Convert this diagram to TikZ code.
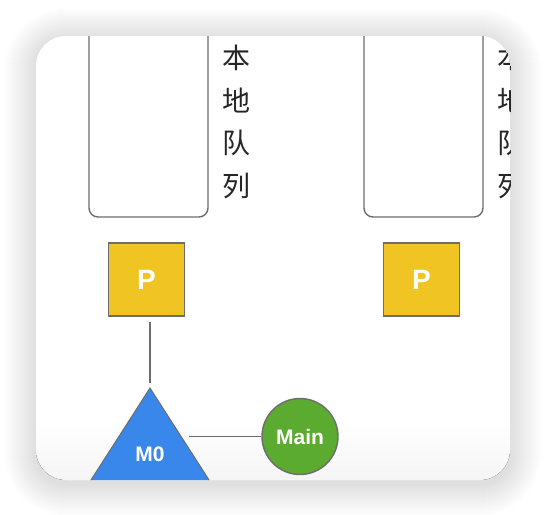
\documentclass[tikz,border=0pt]{standalone}
\usepackage{fontspec}
\setmainfont{Liberation Sans}
\newfontfamily\cjk{Noto Sans CJK SC}
\usetikzlibrary{positioning}

\definecolor{pyellow}{HTML}{F0C423}
\definecolor{mblue}{HTML}{3A87EB}
\definecolor{ggreen}{HTML}{5AAB30}
\definecolor{edgegray}{HTML}{6D6D6D}

\tikzset{
  queue/.style={draw=edgegray, line width=0.7pt, rounded corners=4.5pt,
    minimum width=59.5pt, minimum height=130pt},
  qlabel/.style={font=\cjk\fontsize{14pt}{21.2pt}\selectfont, align=center, text=black!85},
  pbox/.style={draw=edgegray, line width=0.7pt, fill=pyellow, minimum width=38pt,
    minimum height=36.5pt, font=\bfseries\fontsize{14pt}{14pt}\selectfont, text=white},
  mainc/.style={circle, draw=edgegray, line width=0.7pt, fill=ggreen, minimum size=38pt,
    inner sep=0pt, font=\bfseries\fontsize{10.5pt}{10.5pt}\selectfont, text=white},
  link/.style={draw=edgegray, line width=0.7pt}
}

\begin{document}
\begin{tikzpicture}[x=0.5pt,y=-0.5pt]
\useasboundingbox (0,0) rectangle (546,514);

% Shadow.
\foreach \i in {1,...,32}
  \fill[black, opacity=0.0055, rounded corners={(15+0.5*\i)*1pt}]
    ({36-\i},{40-\i}) rectangle ({510+\i},{484+\i});

% Card.
\fill[white, rounded corners=15pt] (36,36) rectangle (510,480);

\begin{scope}
\clip[rounded corners=15pt] (36,36) rectangle (510,480);
\fill[top color=white, bottom color=black!4] (36,420) rectangle (510,480);

% Local queues.
\node[queue] (q1) at (148.5,87) {};
\node[queue] (q2) at (423.5,87) {};
\node[qlabel] (t1) at (236,122) {本\\地\\队\\列};
\node[qlabel] (t2) at (511,122) {本\\地\\队\\列};

% P.
\node[pbox] (p1) at (146.5,279.5) {P};
\node[pbox] (p2) at (421.5,279.5) {P};

% M0.
\fill[mblue, draw=edgegray, line width=0.5pt] (150,388) -- (82,494) -- (218,494) -- cycle;
\coordinate (m0top) at (150,388);
\coordinate (m0right) at (189,436.5);
\coordinate (p1foot) at (150,322);
\node[font=\bfseries\fontsize{10.5pt}{10.5pt}\selectfont, text=white] (m0) at (150,454) {M0};

% Main.
\node[mainc] (main) at (300,436.5) {Main};

\draw[link, shorten >=2.5pt] (p1foot) -- (m0top);
\draw[link] (m0right) -- (main);
\end{scope}
\end{tikzpicture}
\end{document}
